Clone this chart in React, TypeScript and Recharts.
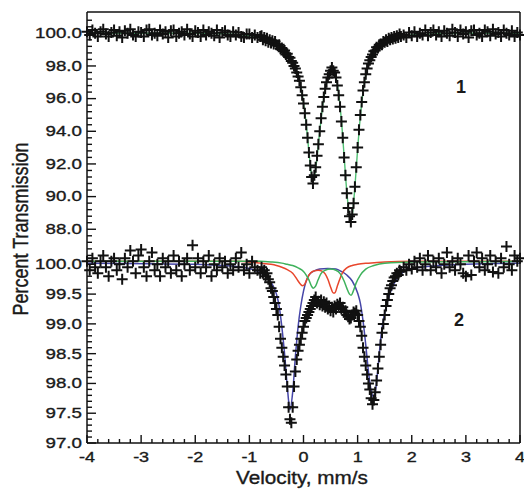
import React from "react";
import { ComposedChart, Line, Scatter, XAxis, YAxis } from "recharts";

// Two Mössbauer spectra stacked in one frame. Spectrum 1 sits on top with its own
// (coarse) transmission scale, spectrum 2 below with a fine one. Both are mapped onto a
// single "stacked" y coordinate (0 = frame bottom, 431 = frame top).

const W = 524;
const H = 499;
const PLOT = { left: 87, right: 520, top: 12, bottom: 443 };

// velocity channels (mm/s): coarse on the wings, finer across the absorption lines
const velocity = [
  // -4 .. -0.8
  -4, -3.95, -3.9, -3.85, -3.8, -3.75, -3.7, -3.65, -3.6, -3.55,
  -3.5, -3.45, -3.4, -3.35, -3.3, -3.25, -3.2, -3.15, -3.1, -3.05,
  -3, -2.95, -2.9, -2.85, -2.8, -2.75, -2.7, -2.65, -2.6, -2.55,
  -2.5, -2.45, -2.4, -2.35, -2.3, -2.25, -2.2, -2.15, -2.1, -2.05,
  -2, -1.95, -1.9, -1.85, -1.8, -1.75, -1.7, -1.65, -1.6, -1.55,
  -1.5, -1.45, -1.4, -1.35, -1.3, -1.25, -1.2, -1.15, -1.1, -1.05,
  -1, -0.95, -0.9, -0.85, -0.8,
  // -0.775 .. 1.8
  -0.775, -0.75, -0.725, -0.7, -0.675, -0.65, -0.625, -0.6, -0.575, -0.55,
  -0.525, -0.5, -0.475, -0.45, -0.425, -0.4, -0.375, -0.35, -0.325, -0.3,
  -0.275, -0.25, -0.225, -0.2, -0.175, -0.15, -0.125, -0.1, -0.075, -0.05,
  -0.025, 0, 0.025, 0.05, 0.075, 0.1, 0.125, 0.15, 0.175, 0.2,
  0.225, 0.25, 0.275, 0.3, 0.325, 0.35, 0.375, 0.4, 0.425, 0.45,
  0.475, 0.5, 0.525, 0.55, 0.575, 0.6, 0.625, 0.65, 0.675, 0.7,
  0.725, 0.75, 0.775, 0.8, 0.825, 0.85, 0.875, 0.9, 0.925, 0.95,
  0.975, 1, 1.025, 1.05, 1.075, 1.1, 1.125, 1.15, 1.175, 1.2,
  1.225, 1.25, 1.275, 1.3, 1.325, 1.35, 1.375, 1.4, 1.425, 1.45,
  1.475, 1.5, 1.525, 1.55, 1.575, 1.6, 1.625, 1.65, 1.675, 1.7,
  1.725, 1.75, 1.775, 1.8,
  // 1.85 .. 4
  1.85, 1.9, 1.95, 2, 2.05, 2.1, 2.15, 2.2, 2.25, 2.3,
  2.35, 2.4, 2.45, 2.5, 2.55, 2.6, 2.65, 2.7, 2.75, 2.8,
  2.85, 2.9, 2.95, 3, 3.05, 3.1, 3.15, 3.2, 3.25, 3.3,
  3.35, 3.4, 3.45, 3.5, 3.55, 3.6, 3.65, 3.7, 3.75, 3.8,
  3.85, 3.9, 3.95, 4,
];

// spectrum 1 (% transmission)
const spectrum1 = [
  100.1, 99.9, 100.2, 100.0, 99.8, 100.1, 100.25, 99.95, 99.8, 100.05,
  100.2, 99.85, 100.1, 99.75, 100.15, 100.0, 100.25, 99.9, 99.8, 100.1,
  100.05, 99.8, 100.2, 100.25, 99.9, 100.0, 99.85, 100.2, 99.95, 100.1,
  99.75, 100.15, 100.2, 99.8, 100.0, 100.1, 99.9, 100.25, 99.95, 99.8,
  100.15, 100.05, 99.8, 100.2, 99.9, 100.1, 100.0, 99.85, 100.2, 99.75,
  100.05, 100.15, 99.9, 99.8, 100.1, 99.9, 100.05, 99.8, 99.75, 99.95,
  99.95, 99.75, 99.9, 99.75, 99.8,
  99.85, 99.6, 99.75, 99.55, 99.7, 99.45, 99.6, 99.4, 99.55, 99.35,
  99.5, 99.3, 99.25, 99.3, 99.05, 99.1, 98.9, 98.95, 98.7, 98.75,
  98.55, 98.5, 98.3, 98.2, 98.0, 97.85, 97.6, 97.35, 97.1, 96.7,
  96.2, 95.7, 95.1, 94.4, 93.6, 92.7, 91.9, 91.2, 90.8, 91.3,
  91.8, 92.5, 93.2, 94.0, 94.8, 95.5, 96.1, 96.6, 97.0, 97.3,
  97.5, 97.7, 97.9, 97.7, 97.6, 97.3, 96.8, 96.2, 95.5, 94.6,
  93.6, 92.4, 91.3, 90.2, 89.3, 88.8, 88.45, 88.9, 89.6, 90.6,
  91.8, 93.0, 94.1, 95.0, 95.8, 96.5, 97.0, 97.5, 97.85, 98.15,
  98.35, 98.55, 98.7, 98.9, 98.95, 99.15, 99.1, 99.3, 99.35, 99.3,
  99.5, 99.45, 99.6, 99.5, 99.7, 99.6, 99.75, 99.65, 99.8, 99.7,
  99.85, 99.75, 99.95, 99.8,
  99.9, 99.75, 100.05, 99.85, 100.1, 99.8, 100.0, 99.9, 100.2, 99.85,
  100.05, 100.2, 99.9, 100.1, 99.8, 100.15, 100.0, 99.85, 100.25, 100.05,
  99.8, 100.2, 99.95, 100.1, 99.75, 100.15, 100.2, 99.9, 100.0, 99.8,
  100.2, 100.1, 99.85, 100.25, 99.95, 100.05, 99.8, 100.2, 100.0, 99.9,
  100.15, 99.8, 100.05, 99.9,
];

// spectrum 2 (% transmission)
const spectrum2 = [
  100.05, 99.9, 100.1, 99.95, 99.85, 100.05, 100.15, 99.95, 99.8, 100.05,
  100.1, 99.9, 100.0, 99.75, 100.1, 99.95, 100.23, 100.05, 99.85, 100.15,
  100.25, 99.95, 99.8, 100.05, 100.2, 99.9, 100.0, 99.8, 100.1, 99.95,
  100.05, 99.85, 100.15, 99.9, 100.05, 99.8, 100.0, 100.1, 99.9, 100.32,
  99.95, 100.1, 99.85, 100.05, 99.95, 100.15, 99.8, 100.0, 99.9, 100.1,
  99.95, 100.05, 99.85, 100.0, 99.9, 100.1, 99.95, 100.2, 99.9, 100.0,
  99.85, 100.05, 99.95, 99.9, 99.85,
  99.95, 99.85, 99.9, 99.8, 99.85, 99.75, 99.7, 99.6, 99.55, 99.45,
  99.35, 99.25, 99.15, 98.95, 98.75, 98.6, 98.45, 98.3, 98.15, 97.95,
  97.6, 97.4, 97.34, 97.6, 97.95, 98.2, 98.4, 98.55, 98.65, 98.75,
  98.85, 98.95, 99.05, 99.1, 99.15, 99.2, 99.25, 99.3, 99.35, 99.4,
  99.45, 99.35, 99.38, 99.32, 99.4, 99.3, 99.37, 99.28, 99.35, 99.25,
  99.3, 99.22, 99.28, 99.2, 99.3, 99.25, 99.33, 99.3, 99.35, 99.25,
  99.28, 99.2, 99.22, 99.15, 99.12, 99.08, 99.1, 99.15, 99.2, 99.18,
  99.22, 99.15, 99.05, 98.95, 98.8, 98.6, 98.45, 98.3, 98.15, 98.0,
  97.9, 97.75, 97.65, 97.72, 97.85, 98.05, 98.25, 98.45, 98.65, 98.85,
  99.0, 99.15, 99.3, 99.4, 99.5, 99.6, 99.65, 99.72, 99.78, 99.8,
  99.85, 99.82, 99.9, 99.88,
  99.95, 99.9, 100.0, 99.92, 100.05, 99.95, 100.1, 99.9, 100.0, 100.15,
  99.9, 100.05, 99.95, 100.1, 99.85, 100.0, 100.2, 99.95, 100.05, 99.9,
  100.1, 100.0, 99.85, 99.8, 100.15, 99.82, 100.05, 100.2, 99.95, 100.1,
  99.9, 100.0, 100.15, 99.87, 100.05, 99.85, 100.1, 99.95, 100.3, 100.0,
  99.9, 100.15, 100.05, 100.1,
];

// fitted curves, [velocity, transmission]
const fit1 = [
  [-4, 100], [-2, 100], [-1.5, 99.97], [-1.2, 99.93], [-1, 99.86], [-0.8, 99.74],
  [-0.6, 99.52], [-0.5, 99.35], [-0.4, 99.08], [-0.3, 98.72], [-0.2, 98.2],
  [-0.15, 97.85], [-0.1, 97.38], [-0.05, 96.7], [0, 95.75], [0.05, 94.45],
  [0.1, 92.75], [0.15, 91.3], [0.175, 90.95], [0.2, 91.2], [0.25, 92.4],
  [0.3, 94.0], [0.35, 95.45], [0.4, 96.55], [0.45, 97.25], [0.5, 97.68],
  [0.53, 97.78], [0.56, 97.72], [0.6, 97.35], [0.65, 96.3], [0.7, 94.7],
  [0.75, 92.5], [0.8, 90.3], [0.85, 88.8], [0.875, 88.55], [0.9, 88.85],
  [0.95, 90.6], [1, 92.9], [1.05, 94.9], [1.1, 96.4], [1.15, 97.4],
  [1.2, 98.1], [1.3, 98.85], [1.4, 99.25], [1.5, 99.5], [1.7, 99.75],
  [2, 99.9], [2.5, 99.97], [3, 100], [4, 100],
];

const fit2Blue = [
  [-4, 100.02], [-2, 100.0], [-1.5, 99.98], [-1.2, 99.96], [-1, 99.93], [-0.8, 99.86],
  [-0.7, 99.8], [-0.6, 99.7], [-0.5, 99.5], [-0.45, 99.3], [-0.4, 98.95],
  [-0.35, 98.5], [-0.3, 97.95], [-0.25, 97.56], [-0.2, 97.85], [-0.15, 98.45],
  [-0.1, 98.95], [-0.05, 99.3], [0, 99.55], [0.05, 99.72], [0.1, 99.82],
  [0.2, 99.89], [0.3, 99.92], [0.45, 99.93], [0.6, 99.92], [0.7, 99.88],
  [0.8, 99.82], [0.9, 99.72], [1, 99.52], [1.05, 99.35], [1.1, 99.05],
  [1.15, 98.65], [1.2, 98.2], [1.25, 97.88], [1.29, 97.78], [1.33, 97.88],
  [1.38, 98.3], [1.43, 98.78], [1.5, 99.18], [1.6, 99.52], [1.7, 99.72],
  [1.8, 99.84], [2, 99.93], [2.5, 99.98], [3, 100.0], [4, 100.02],
];

const fit2Red = [
  [-4, 100.05], [-1.2, 100.05], [-1, 100.04], [-0.8, 100.02], [-0.6, 100.0],
  [-0.5, 99.98], [-0.4, 99.95], [-0.3, 99.91], [-0.2, 99.85], [-0.15, 99.79],
  [-0.1, 99.72], [-0.05, 99.66], [-0.02, 99.64], [0.02, 99.66], [0.05, 99.72],
  [0.1, 99.82], [0.15, 99.87], [0.2, 99.89], [0.27, 99.9], [0.35, 99.88],
  [0.4, 99.84], [0.45, 99.75], [0.5, 99.62], [0.55, 99.52], [0.58, 99.52],
  [0.62, 99.62], [0.67, 99.75], [0.72, 99.86], [0.8, 99.94], [0.9, 99.98],
  [1, 100.0], [1.2, 100.02], [1.5, 100.04], [2, 100.05], [4, 100.05],
];

const fit2Green = [
  [-4, 100.05], [-0.8, 100.05], [-0.6, 100.04], [-0.4, 100.02], [-0.3, 100.0],
  [-0.2, 99.98], [-0.1, 99.94], [0, 99.88], [0.05, 99.82], [0.1, 99.74],
  [0.15, 99.63], [0.18, 99.6], [0.22, 99.63], [0.27, 99.74], [0.32, 99.84],
  [0.4, 99.9], [0.5, 99.92], [0.6, 99.9], [0.68, 99.84], [0.75, 99.72],
  [0.8, 99.6], [0.85, 99.5], [0.88, 99.48], [0.92, 99.55], [0.97, 99.68],
  [1.05, 99.82], [1.15, 99.92], [1.3, 99.98], [1.5, 100.02], [2, 100.04],
  [4, 100.05],
];

// tick labels
const xMajor = [-4, -3, -2, -1, 0, 1, 2, 3, 4];
const upperMajor = [88, 90, 92, 94, 96, 98, 100];
const lowerMajor = [97, 97.5, 98, 98.5, 99, 99.5, 100];

// stacked scale: upper block 16.33 px per %, lower block 59.56 px per %
const toUpper = (v: number) => 409.7 + (v - 100) * 16.33;
const toLower = (v: number) => (v - 97) * 59.56;

const pts1 = velocity.map((x, i) => ({ x, y: toUpper(spectrum1[i]) }));
const pts2 = velocity.map((x, i) => ({ x, y: toLower(spectrum2[i]) }));
const line = (arr: number[][], f: (v: number) => number) => arr.map(([x, v]) => ({ x, y: f(v) }));

// axis ticks (majors labelled, minors unlabelled)
const xTicks: number[] = [];
for (let i = 0; i <= 40; i++) xTicks.push(Math.round((-4 + i * 0.2) * 10) / 10);

const yLabels = new Map<string, string>();
const yTicks: number[] = [];
for (let k = 0; k <= 36; k++) yTicks.push(toUpper(86.4 + k * 0.4));
upperMajor.forEach((v) => yLabels.set(toUpper(v).toFixed(1), v.toFixed(1)));
for (let k = 0; k <= 30; k++) yTicks.push(toLower(97 + k * 0.1));
lowerMajor.forEach((v) => yLabels.set(toLower(v).toFixed(1), v.toFixed(1)));

const INK = "#111";
const TEXT = "#1a1a1a";
const FONT = "'Liberation Sans', Arial, Helvetica, sans-serif";

function XTickBottom(props: any) {
  const { x, payload } = props;
  const v = payload.value as number;
  const major = xMajor.some((m) => Math.abs(m - v) < 1e-6);
  return (
    <g>
      <line x1={x} x2={x} y1={PLOT.bottom} y2={PLOT.bottom - (major ? 8 : 4)} stroke={INK} strokeWidth={1.4} />
      {major && (
        <text
          transform={`translate(${x},${PLOT.bottom + 14}) scale(1.2,1)`}
          textAnchor="middle"
          dominantBaseline="central"
          fontSize={15}
          fontFamily={FONT}
          fill={TEXT}
          stroke={TEXT}
          strokeWidth={0.35}
        >
          {v}
        </text>
      )}
    </g>
  );
}

function XTickTop(props: any) {
  const { x, payload } = props;
  const v = payload.value as number;
  const major = xMajor.some((m) => Math.abs(m - v) < 1e-6);
  return <line x1={x} x2={x} y1={PLOT.top} y2={PLOT.top + (major ? 8 : 4)} stroke={INK} strokeWidth={1.4} />;
}

function YTick(props: any) {
  const { y, payload } = props;
  const label = yLabels.get((payload.value as number).toFixed(1));
  return (
    <g>
      <line x1={PLOT.left} x2={PLOT.left + (label ? 9 : 5)} y1={y} y2={y} stroke={INK} strokeWidth={1.4} />
      {label && (
        <text
          transform={`translate(${PLOT.left - 5},${y}) scale(1.25,1)`}
          textAnchor="end"
          dominantBaseline="central"
          fontSize={15}
          fontFamily={FONT}
          fill={TEXT}
          stroke={TEXT}
          strokeWidth={0.35}
        >
          {label}
        </text>
      )}
    </g>
  );
}

function Cross(props: any) {
  const { cx, cy } = props;
  if (cx == null || cy == null) return null;
  return (
    <path
      d={`M${cx - 5.5},${cy}H${cx + 5.5}M${cx},${cy - 5.5}V${cy + 5.5}`}
      stroke={INK}
      strokeWidth={2}
      fill="none"
    />
  );
}

const axisLine = { stroke: INK, strokeWidth: 1.5 };

const titleStyle: React.CSSProperties = {
  position: "absolute",
  left: 0,
  top: 0,
  whiteSpace: "nowrap",
  fontSize: 18,
  lineHeight: 1,
  color: TEXT,
  WebkitTextStroke: `0.35px ${TEXT}`,
  transformOrigin: "0 0",
};

export default function App() {
  return (
    <div style={{ position: "absolute", left: 0, top: 0, width: W, height: H, background: "#fff", fontFamily: FONT }}>
      <ComposedChart width={W} height={H} margin={{ top: 0, right: 0, bottom: 0, left: 0 }}>
        <XAxis
          xAxisId="b"
          type="number"
          dataKey="x"
          domain={[-4, 4]}
          ticks={xTicks}
          interval={0}
          height={H - PLOT.bottom}
          axisLine={axisLine}
          tickLine={false}
          tick={<XTickBottom />}
        />
        <XAxis
          xAxisId="t"
          orientation="top"
          type="number"
          dataKey="x"
          domain={[-4, 4]}
          ticks={xTicks}
          interval={0}
          height={PLOT.top}
          axisLine={axisLine}
          tickLine={false}
          tick={<XTickTop />}
        />
        <YAxis
          yAxisId="l"
          type="number"
          dataKey="y"
          domain={[0, PLOT.bottom - PLOT.top]}
          ticks={yTicks}
          interval={0}
          width={PLOT.left}
          axisLine={axisLine}
          tickLine={false}
          tick={<YTick />}
        />
        <YAxis
          yAxisId="r"
          orientation="right"
          type="number"
          domain={[0, PLOT.bottom - PLOT.top]}
          width={W - PLOT.right}
          axisLine={axisLine}
          tickLine={false}
          tick={false}
        />

        <Line xAxisId="b" yAxisId="l" data={line(fit1, toUpper)} dataKey="y" type="monotone" dot={false}
          stroke="#4fbf72" strokeWidth={1.4} isAnimationActive={false} />
        <Line xAxisId="b" yAxisId="l" data={line(fit2Blue, toLower)} dataKey="y" type="monotone" dot={false}
          stroke="#4646a8" strokeWidth={1.5} isAnimationActive={false} />
        <Line xAxisId="b" yAxisId="l" data={line(fit2Red, toLower)} dataKey="y" type="monotone" dot={false}
          stroke="#e8462c" strokeWidth={1.5} isAnimationActive={false} />
        <Line xAxisId="b" yAxisId="l" data={line(fit2Green, toLower)} dataKey="y" type="monotone" dot={false}
          stroke="#3fb25c" strokeWidth={1.5} isAnimationActive={false} />

        <Scatter xAxisId="b" yAxisId="l" data={pts1} shape={<Cross />} isAnimationActive={false} />
        <Scatter xAxisId="b" yAxisId="l" data={pts2} shape={<Cross />} isAnimationActive={false} />
      </ComposedChart>

      {/* axis titles and panel numbers */}
      <div style={{ position: "absolute", left: 21, top: 229, width: 0, height: 0 }}>
        <span style={{ ...titleStyle, transform: "scaleX(1.2) rotate(-90deg) translate(-50%, -50%)" }}>
          Percent Transmission
        </span>
      </div>
      <div style={{ position: "absolute", left: 302, top: 478, width: 0, height: 0 }}>
        <span style={{ ...titleStyle, transform: "scaleX(1.15) translate(-50%, -50%)" }}>Velocity, mm/s</span>
      </div>
      <div style={{ position: "absolute", left: 461, top: 87, width: 0, height: 0 }}>
        <span style={{ ...titleStyle, fontWeight: 700, WebkitTextStroke: "0px", transform: "translate(-50%, -50%)" }}>1</span>
      </div>
      <div style={{ position: "absolute", left: 459, top: 320, width: 0, height: 0 }}>
        <span style={{ ...titleStyle, fontWeight: 700, WebkitTextStroke: "0px", transform: "translate(-50%, -50%)" }}>2</span>
      </div>
    </div>
  );
}
